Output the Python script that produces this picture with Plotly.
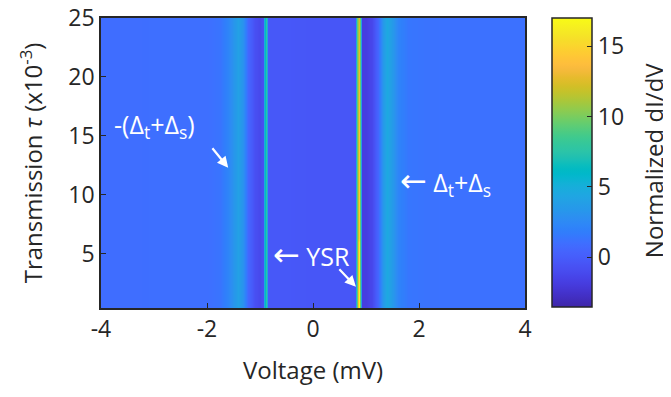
import plotly.graph_objects as go

# ---- data ----
voltage_mV = [-4.0, -3.0, -2.0, -1.75, -1.6, -1.5, -1.42, -1.33, -1.22, -1.1, -1.0,
              -0.95, -0.925, -0.895, -0.865, -0.84, -0.5, 0.0, 0.5, 0.8, 0.83, 0.86,
              0.89, 0.92, 1.0, 1.12, 1.22, 1.32, 1.40, 1.48, 1.6, 1.8, 2.2, 3.0, 4.0]
didv_profile = [0.9, 1.0, 1.0, 1.3, 2.2, 3.3, 4.0, 3.0, 0.6, -0.8, -1.2,
                -0.8, 4.5, 7.5, 4.5, -0.3, -0.3, -0.4, -0.4, -0.4, 9.5, 14.0,
                9.5, -1.8, -1.8, -1.2, 0.6, 3.5, 4.5, 3.8, 2.2, 1.4, 1.2, 1.1, 1.1]
ysr_index = 21  # position of the +0.86 mV YSR peak in voltage_mV
tau_rows = [0.4, 6.0, 6.3, 12.0, 18.0, 25.0]
ysr_peak = [16.9, 16.5, 14.5, 14.2, 13.4, 12.4]

x_ticks = [-4, -2, 0, 2, 4]
x_ticktext = ["-4", "-2", "0", "2", "4"]
y_ticks = [5, 10, 15, 20, 25]
cbar_ticks = [0, 5, 10, 15]

z = []
for peak in ysr_peak:
    row = list(didv_profile)
    row[ysr_index] = peak
    z.append(row)

parula = [
    [0.2422, 0.1504, 0.6603], [0.2504, 0.1650, 0.7076], [0.2578, 0.1818, 0.7511],
    [0.2647, 0.1978, 0.7952], [0.2706, 0.2147, 0.8364], [0.2751, 0.2342, 0.8710],
    [0.2783, 0.2559, 0.8991], [0.2803, 0.2782, 0.9221], [0.2813, 0.3006, 0.9414],
    [0.2810, 0.3228, 0.9579], [0.2795, 0.3447, 0.9717], [0.2760, 0.3667, 0.9829],
    [0.2699, 0.3892, 0.9906], [0.2602, 0.4123, 0.9952], [0.2440, 0.4358, 0.9988],
    [0.2206, 0.4603, 0.9973], [0.1963, 0.4847, 0.9892], [0.1834, 0.5074, 0.9798],
    [0.1786, 0.5289, 0.9682], [0.1764, 0.5499, 0.9520], [0.1687, 0.5703, 0.9359],
    [0.1540, 0.5902, 0.9218], [0.1460, 0.6091, 0.9079], [0.1380, 0.6276, 0.8973],
    [0.1248, 0.6459, 0.8883], [0.1113, 0.6635, 0.8763], [0.0952, 0.6798, 0.8598],
    [0.0689, 0.6948, 0.8394], [0.0297, 0.7082, 0.8163], [0.0036, 0.7203, 0.7917],
    [0.0067, 0.7312, 0.7660], [0.0433, 0.7411, 0.7394], [0.0964, 0.7500, 0.7120],
    [0.1408, 0.7584, 0.6842], [0.1717, 0.7670, 0.6554], [0.1938, 0.7758, 0.6251],
    [0.2161, 0.7843, 0.5923], [0.2470, 0.7918, 0.5567], [0.2906, 0.7973, 0.5188],
    [0.3406, 0.8008, 0.4789], [0.3909, 0.8029, 0.4354], [0.4456, 0.8024, 0.3909],
    [0.5044, 0.7993, 0.3480], [0.5616, 0.7942, 0.3045], [0.6174, 0.7876, 0.2612],
    [0.6720, 0.7793, 0.2227], [0.7242, 0.7698, 0.1910], [0.7738, 0.7598, 0.1646],
    [0.8203, 0.7498, 0.1535], [0.8634, 0.7406, 0.1596], [0.9035, 0.7330, 0.1774],
    [0.9393, 0.7288, 0.2100], [0.9728, 0.7298, 0.2394], [0.9956, 0.7434, 0.2371],
    [0.9970, 0.7659, 0.2199], [0.9952, 0.7893, 0.2028], [0.9892, 0.8136, 0.1885],
    [0.9786, 0.8386, 0.1766], [0.9676, 0.8639, 0.1643], [0.9610, 0.8890, 0.1537],
    [0.9597, 0.9135, 0.1423], [0.9628, 0.9373, 0.1265], [0.9691, 0.9606, 0.1064],
    [0.9769, 0.9839, 0.0805]]
n = len(parula)
colorscale = [[i / (n - 1), "rgb(%d,%d,%d)" % tuple(round(c * 255) for c in col)]
              for i, col in enumerate(parula)]

FONT = "Open Sans"
AX = "#262626"
TICK = 23
TITLE = 24

# plot area (figure pixels): l=93, r=146 -> width 424; t=10, b=89 -> height 290
fig = go.Figure()
fig.add_trace(go.Heatmap(
    x=voltage_mV, y=tau_rows, z=z, zsmooth="best",
    colorscale=colorscale, zmin=-3.55, zmax=17.0,
    colorbar=dict(
        tickvals=cbar_ticks, ticks="inside", ticklen=5, tickcolor=AX,
        tickfont=dict(family=FONT, size=TICK, color=AX),
        outlinecolor=AX, outlinewidth=1.5,
        thickness=40, thicknessmode="pixels",
        len=289, lenmode="pixels", xpad=0, ypad=0,
        x=1.064, xanchor="left", y=1.0, yanchor="top",
    ),
    showscale=True,
))

white = dict(family=FONT, size=25, color="white")
ARROW = "<span style='font-family:DejaVu Sans;font-size:32px'>←</span>"
annotations = [
    dict(x=-3.79, y=15.9, xanchor="left", yanchor="middle", showarrow=False,
         text="-(Δ<sub>t</sub>+Δ<sub>s</sub>)", font=white),
    dict(x=-1.60, y=12.3, ax=-17, ay=-21, text="", showarrow=True,
         arrowhead=2, arrowsize=1, arrowwidth=2.2, arrowcolor="white"),
    dict(x=1.60, y=11.1, xanchor="left", yanchor="middle", showarrow=False,
         text=ARROW + " Δ<sub>t</sub>+Δ<sub>s</sub>", font=white),
    dict(x=-0.79, y=4.9, xanchor="left", yanchor="middle", showarrow=False,
         text=ARROW + " YSR", font=white),
    dict(x=0.81, y=2.2, ax=-18, ay=-19, text="", showarrow=True,
         arrowhead=2, arrowsize=1, arrowwidth=2.2, arrowcolor="white"),
    # colorbar title
    dict(x=1.302, y=0.51, xref="paper", yref="paper", showarrow=False,
         xanchor="center", yanchor="middle",
         textangle=-90, text="Normalized dI/dV",
         font=dict(family=FONT, size=TITLE, color=AX)),
]

# the page body adds an 8px margin, so the figure is sized to fit the window
fig.update_layout(
    width=663, height=389,
    margin=dict(l=93, r=146, t=10, b=89, autoexpand=False),
    paper_bgcolor="white", plot_bgcolor="white",
    font=dict(family=FONT, size=TICK, color=AX),
    annotations=annotations,
    xaxis=dict(range=[-4, 4], tickvals=x_ticks, ticktext=x_ticktext,
               ticks="inside", ticklen=5, automargin=False, ticklabeloverflow="allow",
               tickcolor=AX, showline=True, linecolor=AX, linewidth=1.5, mirror=True,
               showgrid=False, zeroline=False,
               tickfont=dict(family=FONT, size=TICK, color=AX),
               title=dict(text="Voltage (mV)", font=dict(family=FONT, size=TITLE, color=AX),
                          standoff=19)),
    yaxis=dict(range=[0.4, 25.001], tickvals=y_ticks, ticks="inside", ticklen=5,
               automargin=False, ticklabeloverflow="allow",
               tickcolor=AX, showline=True, linecolor=AX, linewidth=1.5, mirror=True,
               showgrid=False, zeroline=False,
               tickfont=dict(family=FONT, size=TICK, color=AX),
               title=dict(text="Transmission <i>τ</i> (x10<sup>-3</sup>)",
                          font=dict(family=FONT, size=TITLE, color=AX), standoff=19)),
)

fig.write_html("out.html")
